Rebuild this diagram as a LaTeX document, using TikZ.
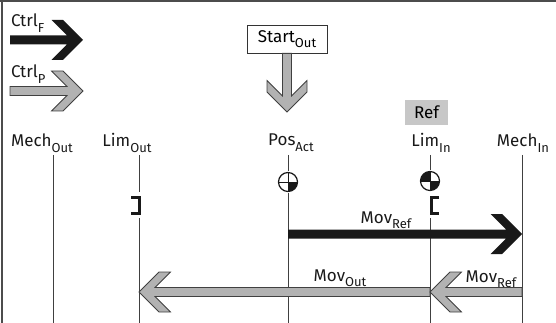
\documentclass[tikz,border=0pt]{standalone}
\usepackage{fontspec}
\setmainfont{Fira Sans}
\usetikzlibrary{calc}

% text with a lowered index
\newcommand{\sublbl}[2]{#1\raisebox{-0.3em}{\fontsize{13}{13}\selectfont #2}}
% fat arrow: [style]{from}{to}{direction}
\newcommand{\fatarrow}[4][]{%
  \begin{scope}[shift={(#3)}, rotate=#4]
    \path[#1] let \p1=($(#3)-(#2)$), \n1={veclen(\x1,\y1)} in
      (-\n1,-4.5) -- (-16,-4.5) -- (-31.5,-20) -- (-20,-20) -- (0,0)
      -- (-20,20) -- (-31.5,20) -- (-16,4.5) -- (-\n1,4.5) -- cycle;
  \end{scope}}

\begin{document}
\begin{tikzpicture}[
    x=1pt, y=-1pt,
    font=\fontsize{17}{20}\selectfont,
    frame/.style={draw=black!70, line width=1.2pt},
    axis/.style={draw=black!75, line width=0.9pt},
    axislabel/.style={anchor=base, inner sep=0pt, text=black!90},
    blackarr/.style={fill=black!90},
    grayarr/.style={fill=black!30, draw=black!75, line width=0.8pt},
    bracket/.style={draw=black!90, line width=3pt, miter limit=4},
    targetmark/.style={draw=black!90, line width=1.2pt}
]
\useasboundingbox (0,0) rectangle (556,323);
\draw[frame] (0,1) -- (556,1);
\draw[frame] (2,0) -- (2,323);

% legend
\node[axislabel, anchor=base west] (ctrlf) at (11,27) {\sublbl{Ctrl}{F}};
\coordinate (ctrlf-s) at (10,40);
\coordinate (ctrlf-e) at (83,40);
\fatarrow[blackarr]{ctrlf-s}{ctrlf-e}{0}
\node[axislabel, anchor=base west] (ctrlp) at (11,78) {\sublbl{Ctrl}{P}};
\coordinate (ctrlp-s) at (10,91);
\coordinate (ctrlp-e) at (83,91);
\fatarrow[grayarr]{ctrlp-s}{ctrlp-e}{0}

% positions
\foreach \name/\x in {mechout/53, limout/139, posact/288, limin/430, mechin/522} {
  \coordinate (\name-top) at (\x,155);
  \coordinate (\name-bot) at (\x,323);
  \draw[axis] (\name-top) -- (\name-bot);
}
\node[axislabel] (mechout) at (42,147) {\sublbl{Mech}{Out}};
\node[axislabel] (limout) at (127,147) {\sublbl{Lim}{Out}};
\node[axislabel] (posact) at (291,146) {\sublbl{Pos}{Act}};
\node[axislabel] (limin) at (431,147) {\sublbl{Lim}{In}};
\node[axislabel] (mechin) at (523,147) {\sublbl{Mech}{In}};
\node[fill=black!22, minimum width=43, minimum height=25, inner sep=0pt] (ref) at (426.5,112.5) {Ref};

% start command
\node[draw=black!80, line width=0.8pt, minimum width=80, minimum height=28, inner sep=0pt] (start) at (287,39) {\sublbl{Start}{Out}};
\coordinate (start-e) at (287,112);
\fatarrow[grayarr]{start.south}{start-e}{-90}

% limit brackets
\fill[white] (126,192) rectangle (143,218);
\draw[bracket] (131,197.5) -- (139,197.5) -- (139,213.5) -- (131,213.5);
\fill[white] (427,192) rectangle (444,218);
\draw[bracket] (439,197.5) -- (431,197.5) -- (431,213.5) -- (439,213.5);

% actual position mark
\coordinate (posmark) at (288,182);
\fill[white] (posmark) circle (11);
\fill[black!90] (posmark) -- ++(9.5,0) arc[start angle=0, end angle=90, radius=9.5] -- cycle;
\draw[targetmark] (posmark) circle (9.5);
\draw[targetmark, line width=0.8pt] ($(posmark)+(-9.5,0)$) -- ($(posmark)+(9.5,0)$);
\draw[targetmark, line width=0.8pt] ($(posmark)+(0,-9.5)$) -- ($(posmark)+(0,9.5)$);

% reference mark
\coordinate (refmark) at (430,181);
\fill[white] (refmark) circle (11);
\fill[black!90] (refmark) -- ++(9.5,0) arc[start angle=0, end angle=90, radius=9.5] -- cycle;
\fill[black!90] (refmark) -- ++(-9.5,0) arc[start angle=180, end angle=270, radius=9.5] -- cycle;
\draw[targetmark] (refmark) circle (9.5);
\draw[targetmark, line width=0.8pt] ($(refmark)+(-9.5,0)$) -- ($(refmark)+(9.5,0)$);
\draw[targetmark, line width=0.8pt] ($(refmark)+(0,-9.5)$) -- ($(refmark)+(0,9.5)$);

% movements
\coordinate (movref-s) at (288,234);
\coordinate (movref-e) at (522,234);
\fatarrow[blackarr]{movref-s}{movref-e}{0}
\node[axislabel] (movref) at (386,223) {\sublbl{Mov}{Ref}};

\coordinate (movout-s) at (430,292);
\coordinate (movout-e) at (139,292);
\fatarrow[grayarr]{movout-s}{movout-e}{180}
\node[axislabel] (movout) at (340,281) {\sublbl{Mov}{Out}};

\coordinate (movback-s) at (522,292);
\coordinate (movback-e) at (430,292);
\fatarrow[grayarr]{movback-s}{movback-e}{180}
\node[axislabel] (movback) at (491,282) {\sublbl{Mov}{Ref}};
\end{tikzpicture}
\end{document}
